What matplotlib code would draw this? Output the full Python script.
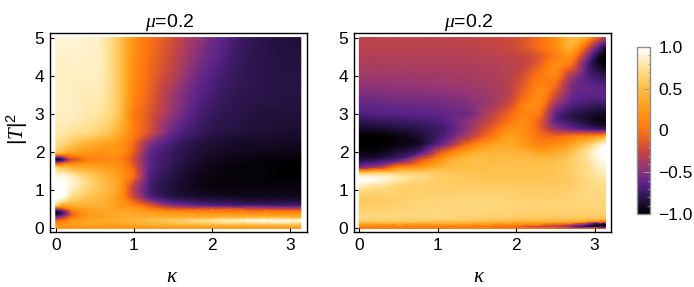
import numpy as np
import matplotlib
matplotlib.use("Agg")
import matplotlib.pyplot as plt
import matplotlib.tri as mtri
from matplotlib.cm import ScalarMappable
from matplotlib.colors import LinearSegmentedColormap, Normalize
from matplotlib.ticker import FixedLocator

plt.rcParams['font.family'] = ['Liberation Sans', 'DejaVu Sans']
plt.rcParams['mathtext.fontset'] = 'custom'
plt.rcParams['mathtext.it'] = 'Liberation Serif:italic'
plt.rcParams['mathtext.rm'] = 'Liberation Sans'

title_text = r"$\mathit{\mu}$=0.2"
x_label = r"$\mathit{\kappa}$"
y_label = r"$|T|^2$"
x_ticks = [0, 1, 2, 3]
y_ticks = [0, 1, 2, 3, 4, 5]
cbar_ticks = [-1.0, -0.5, 0, 0.5, 1.0]
cbar_labels = ["\u22121.0", "\u22120.5", "0", "0.5", "1.0"]

cmap_stops = [(0.0, "#000000"), (0.1, "#2e1650"), (0.18, "#5a2389"), (0.28, "#943676"),
              (0.38, "#c9473f"), (0.5, "#ff7410"), (0.62, "#ff9a14"), (0.75, "#ffbd45"),
              (0.87, "#ffe08f"), (0.95, "#fff5d8"), (1.0, "#ffffff")]

left_x = [0, 0.08, 0.2, 0.4, 0.6, 0.8, 1.0, 1.2, 1.5, 1.8, 2.1, 2.4, 2.7, 3.0, 3.14]
left_y = [0, 0.1, 0.2, 0.3, 0.4, 0.5, 0.6, 0.8, 1.0, 1.2, 1.4, 1.6, 1.7, 1.8, 1.9, 2.0, 2.25, 2.5, 3, 3.5, 4, 4.5, 5]
left_z = [
 [.25,.2,.2,.2,.2,.2,.2,.2,.2,.2,.2,.2,.2,.2,.2],
 [.2,.2,.25,.3,.3,.3,.35,.4,.45,.5,.52,.52,.55,.55,.55],
 [-.1,.0,.2,.3,.35,.4,.45,.5,.6,.7,.8,.88,.95,.95,.95],
 [-.6,-.4,.0,.25,.3,.35,.38,.38,.38,.38,.4,.4,.4,.4,.4],
 [-.95,-.75,-.1,.25,.3,.35,.35,.3,.25,.2,.18,.15,.15,.15,.15],
 [-.5,-.3,.15,.3,.35,.3,.25,.1,-.05,-.1,-.12,-.15,-.18,-.2,-.2],
 [.6,.4,.4,.4,.4,.25,.1,-.15,-.5,-.6,-.65,-.7,-.7,-.7,-.7],
 [1,.95,.7,.55,.45,.25,-.2,-.6,-.8,-.85,-.88,-.9,-.9,-.9,-.9],
 [1,1,.85,.65,.5,.3,-.3,-.7,-.85,-.92,-.95,-.95,-.95,-.95,-.95],
 [1,1,.9,.7,.5,.3,-.2,-.68,-.85,-.93,-.97,-.97,-.97,-.97,-.97],
 [.9,.9,.8,.6,.45,.25,-.05,-.65,-.82,-.92,-.96,-.98,-.98,-1,-1],
 [.6,.5,.4,.35,.3,.2,-.1,-.62,-.8,-.9,-.95,-.97,-.98,-1,-1],
 [-.2,-.1,.1,.2,.2,.15,-.15,-.62,-.78,-.88,-.94,-.96,-.98,-1,-1],
 [-.95,-.8,-.2,.05,.12,.12,-.2,-.62,-.77,-.87,-.93,-.95,-.97,-.98,-.98],
 [-.1,-.05,.1,.15,.15,.15,-.15,-.6,-.76,-.86,-.92,-.94,-.95,-.96,-.96],
 [.55,.5,.35,.25,.2,.2,-.1,-.58,-.75,-.85,-.9,-.92,-.93,-.94,-.94],
 [.75,.7,.6,.45,.35,.25,-.05,-.45,-.7,-.82,-.87,-.9,-.9,-.92,-.92],
 [.8,.8,.75,.7,.6,.4,.05,-.2,-.6,-.75,-.82,-.85,-.87,-.88,-.88],
 [.85,.85,.85,.8,.75,.55,.05,-.15,-.45,-.68,-.78,-.82,-.85,-.85,-.85],
 [.85,.85,.85,.82,.8,.58,.13,-.1,-.4,-.62,-.74,-.8,-.82,-.83,-.83],
 [.85,.85,.85,.85,.82,.58,.16,-.06,-.3,-.55,-.7,-.78,-.82,-.83,-.83],
 [.87,.87,.87,.87,.82,.58,.18,-.03,-.25,-.48,-.65,-.77,-.82,-.84,-.84],
 [.9,.9,.9,.88,.82,.58,.2,.0,-.2,-.42,-.6,-.75,-.82,-.85,-.85],
]

right_x = [0, 0.2, 0.5, 0.8, 1.1, 1.4, 1.7, 1.9, 2.1, 2.3, 2.5, 2.7, 2.9, 3.05, 3.14]
right_y = [0, .05, .1, .15, .2, .3, .5, .8, 1.1, 1.3, 1.45, 1.6, 1.8, 2.0, 2.2, 2.4, 2.6, 2.8, 3.0, 3.25, 3.5, 3.75, 4.0, 4.25, 4.5, 4.75, 5]
right_z = [
 [.05,.05,.05,.05,.05,.05,.03,.0,.0,-.05,-.05,-.1,-.1,-.1,-.1],
 [.1,.1,.1,.1,.1,.08,.05,.0,-.1,-.2,-.3,-.5,-.75,-.9,-.9],
 [.3,.3,.3,.3,.3,.28,.25,.2,.15,.1,.0,-.2,-.6,-.9,-.95],
 [.5,.5,.5,.5,.48,.46,.44,.42,.38,.33,.28,.2,.0,-.2,-.3],
 [.62,.62,.62,.62,.6,.58,.55,.55,.5,.5,.48,.48,.42,.4,.4],
 [.68,.68,.68,.68,.68,.65,.63,.63,.6,.6,.6,.6,.6,.6,.6],
 [.63,.63,.65,.67,.67,.67,.67,.66,.65,.65,.65,.65,.65,.65,.65],
 [.6,.6,.62,.65,.65,.66,.66,.65,.63,.63,.63,.65,.68,.68,.68],
 [.82,.76,.65,.62,.6,.6,.6,.6,.59,.59,.59,.62,.68,.72,.72],
 [1,.95,.82,.68,.6,.57,.55,.55,.55,.55,.55,.6,.7,.77,.77],
 [.55,.6,.62,.62,.57,.54,.53,.53,.53,.53,.55,.62,.72,.8,.85],
 [-.5,-.35,.1,.25,.45,.5,.52,.53,.52,.52,.55,.6,.72,.85,.9],
 [-.85,-.8,-.65,-.15,.3,.5,.48,.5,.5,.48,.5,.6,.75,.92,.98],
 [-.95,-.95,-.85,-.65,-.05,.3,.42,.42,.4,.3,.35,.5,.75,.95,1],
 [-1,-1,-.95,-.85,-.5,.0,.3,.35,.25,.1,.15,.3,.55,.8,.95],
 [-1,-1,-.95,-.85,-.65,-.3,.05,.3,.2,.0,-.05,.05,.15,.25,.4],
 [-.9,-.9,-.85,-.8,-.7,-.42,-.08,.15,.18,-.1,-.4,-.55,-.65,-.7,-.7],
 [-.8,-.78,-.75,-.72,-.65,-.45,-.2,.0,.15,-.1,-.6,-.75,-.85,-.92,-.92],
 [-.68,-.66,-.65,-.63,-.6,-.55,-.28,-.08,.1,.0,-.6,-.78,-.85,-.9,-.9],
 [-.6,-.6,-.58,-.57,-.55,-.5,-.38,-.22,.08,.12,-.4,-.65,-.72,-.75,-.75],
 [-.52,-.52,-.5,-.5,-.48,-.44,-.38,-.3,-.05,.15,-.2,-.55,-.62,-.62,-.62],
 [-.45,-.45,-.44,-.43,-.42,-.4,-.36,-.3,-.12,.1,-.05,-.5,-.6,-.65,-.68],
 [-.4,-.4,-.4,-.39,-.38,-.37,-.34,-.3,-.18,.02,.1,-.35,-.65,-.75,-.8],
 [-.36,-.36,-.36,-.35,-.35,-.34,-.33,-.3,-.25,-.08,.15,-.05,-.65,-.88,-.95],
 [-.33,-.33,-.33,-.33,-.32,-.32,-.3,-.28,-.25,-.13,.05,.15,-.45,-.88,-1],
 [-.3,-.3,-.3,-.3,-.3,-.29,-.27,-.24,-.15,-.02,.15,.4,-.1,-.6,-.85],
 [-.28,-.28,-.28,-.28,-.28,-.27,-.25,-.22,-.15,-.03,.15,.45,.3,-.1,-.3],
]

W, H = 694, 287
cmap = LinearSegmentedColormap.from_list("sunset", cmap_stops, N=512)
norm = Normalize(-1, 1)
fig = plt.figure(figsize=(W / 100, H / 100), dpi=100, facecolor="white")


def add_axes(x0, x1, y0, y1):
    return fig.add_axes([x0 / W, 1 - y1 / H, (x1 - x0) / W, (y1 - y0) / H])


def draw_field(ax, xs, ys, zs):
    """Smooth shading: the library's own cubic refiner on the index grid."""
    z = np.array(zs, dtype=float)
    ii, jj = np.meshgrid(np.arange(len(xs)), np.arange(len(ys)))
    tri = mtri.Triangulation(ii.ravel().astype(float), jj.ravel().astype(float))
    refiner = mtri.UniformTriRefiner(tri)
    interp = mtri.CubicTriInterpolator(tri, z.ravel(), kind="geom")
    fine, fine_z = refiner.refine_field(z.ravel(), triinterpolator=interp, subdiv=3)
    px = np.interp(fine.x, np.arange(len(xs)), xs)
    py = np.interp(fine.y, np.arange(len(ys)), ys)
    ax.tripcolor(mtri.Triangulation(px, py, fine.triangles), np.clip(fine_z, -1, 1),
                 cmap=cmap, norm=norm, shading="gouraud", rasterized=True)


panels = [
    (add_axes(50, 307, 33, 232), left_x, left_y, left_z, (-0.077, 3.22), 0.467, 0.475),
    (add_axes(354, 611, 33, 232), right_x, right_y, right_z, (-0.068, 3.21), 0.447, 0.487),
]
for ax, xs, ys, zs, xlim, title_pos, label_pos in panels:
    draw_field(ax, xs, ys, zs)
    ax.set_xlim(*xlim)
    ax.set_ylim(-0.1, 5.12)
    ax.set_xticks(x_ticks)
    ax.set_yticks(y_ticks)
    ax.tick_params(direction="in", length=3, width=0.8, labelsize=12.5, pad=4)
    ax.set_title(title_text, fontsize=14, pad=4, x=title_pos)
    ax.set_xlabel(x_label, fontsize=15)
    ax.xaxis.set_label_coords(label_pos, -0.175)
    for s in ax.spines.values():
        s.set_linewidth(1.0)
ylab = panels[0][0].set_ylabel(y_label, fontsize=15, va="center")
panels[0][0].yaxis.set_label_coords(-0.128, 0.52)

cax = add_axes(637, 650, 47, 214)
cb = fig.colorbar(ScalarMappable(norm=norm, cmap=cmap), cax=cax)
cb.set_ticks(cbar_ticks)
cb.set_ticklabels(cbar_labels)
cb.ax.yaxis.set_minor_locator(FixedLocator(np.arange(-1, 1.01, 0.1)))
cb.ax.tick_params(which="major", direction="in", length=5, width=0.7, color="#999999", labelsize=12.5, pad=6)
cb.ax.tick_params(which="minor", direction="in", length=2.5, width=0.5, color="#aaaaaa")
cb.outline.set_edgecolor("#8c8c8c")
cb.outline.set_linewidth(1.0)

fig.savefig("out.png", dpi=100)
